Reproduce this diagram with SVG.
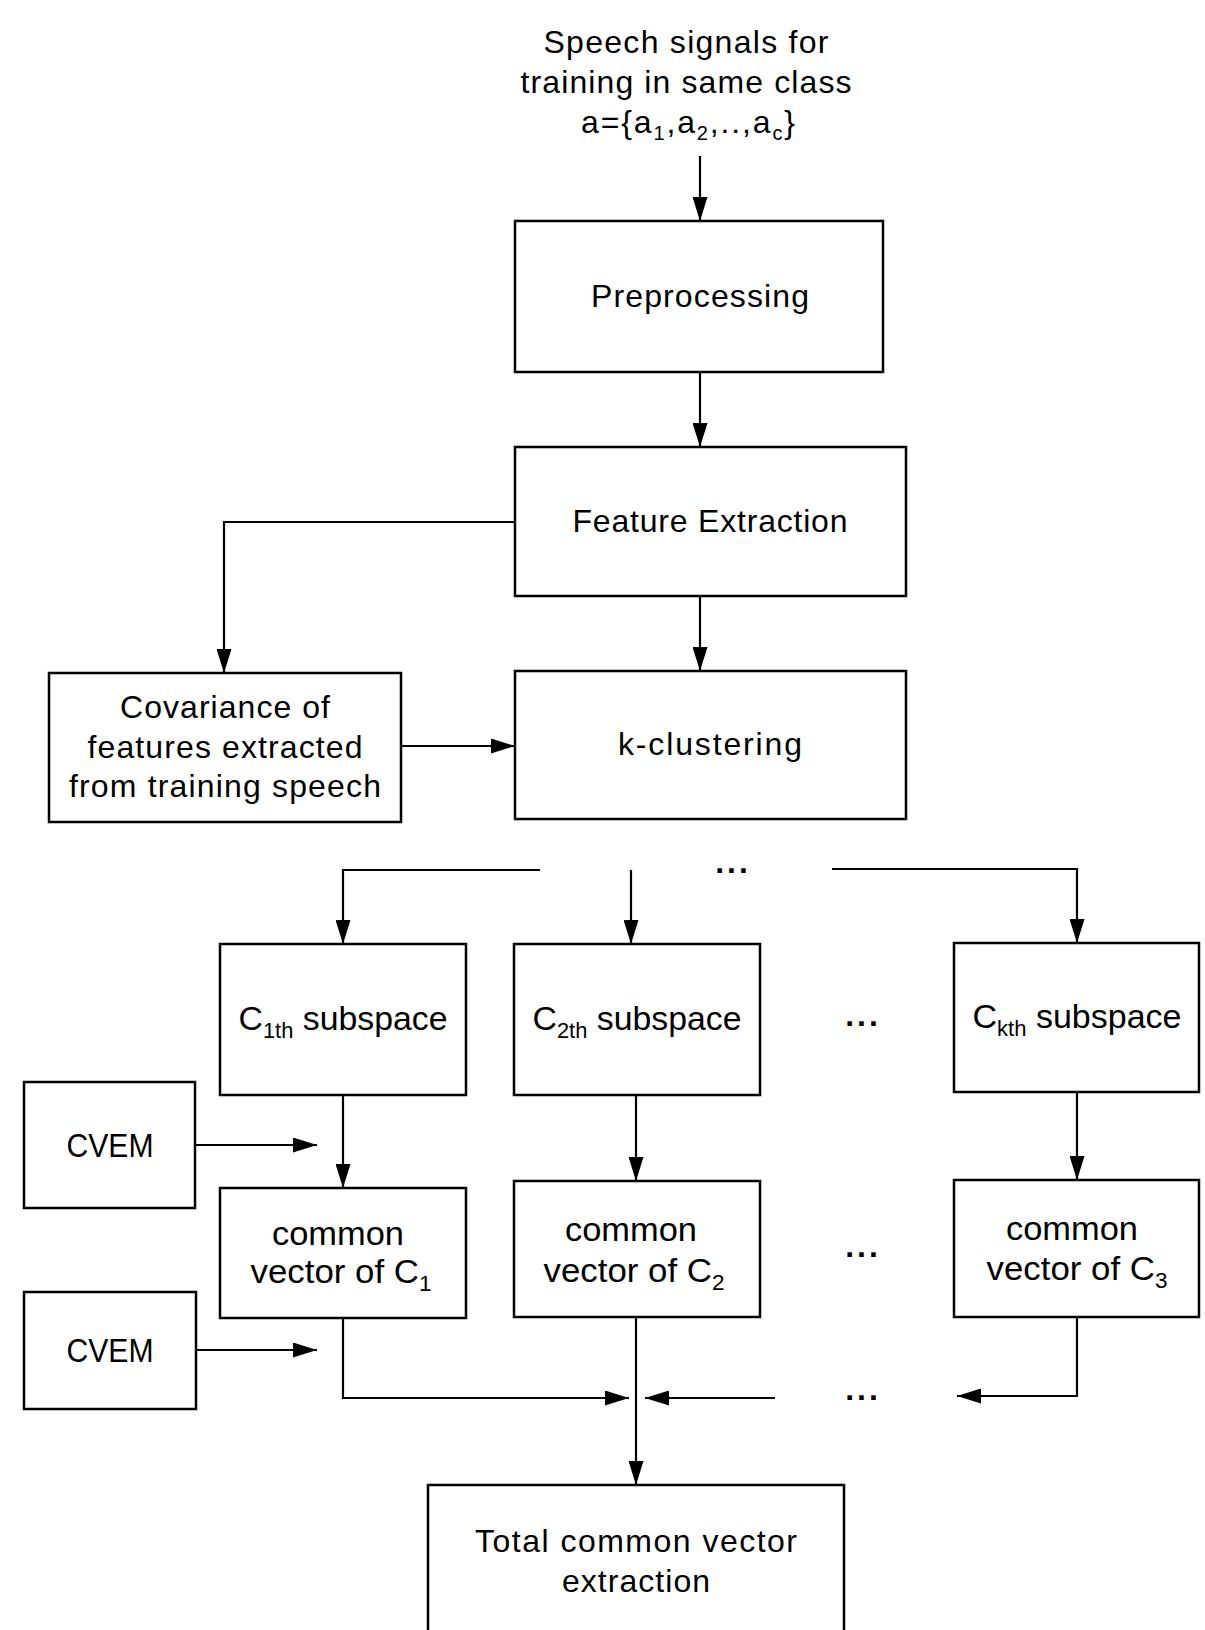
<svg xmlns="http://www.w3.org/2000/svg" width="1205" height="1630" viewBox="0 0 1205 1630">
<style>
.box{fill:#fff;stroke:#000;stroke-width:2.5}
.ln{fill:none;stroke:#000;stroke-width:2.2}
.t{font-family:"Liberation Sans",Arial,sans-serif;font-size:32px;fill:#000;text-anchor:middle}
.n{font-family:"Liberation Sans",Arial,sans-serif;font-size:34px;fill:#000;text-anchor:middle}
.d{font-family:"Liberation Sans",Arial,sans-serif;font-size:32px;font-weight:bold;fill:#000;text-anchor:middle;letter-spacing:3px}
</style>
<defs>
<marker id="ah" viewBox="0 0 24 15" refX="24" refY="7.5" markerWidth="24" markerHeight="15" orient="auto" markerUnits="userSpaceOnUse">
<path d="M0,0 L24,7.5 L0,15 z" fill="#000"/>
</marker>
</defs>
<rect width="1205" height="1630" fill="#fff"/>

<g id="input">
<text class="t" x="686" y="53" textLength="285" lengthAdjust="spacing">Speech signals for</text>
<text class="t" x="686" y="93" textLength="331" lengthAdjust="spacing">training in same class</text>
<text class="t" x="688" y="133" textLength="214" lengthAdjust="spacing">a={a<tspan font-size="20" dy="7">1</tspan><tspan dy="-7">,a</tspan><tspan font-size="20" dy="7">2</tspan><tspan dy="-7">,..,a</tspan><tspan font-size="20" dy="7">c</tspan><tspan dy="-7">}</tspan></text>
</g>

<g id="preprocessing">
<rect class="box" x="515" y="221" width="368" height="151"/>
<text class="t" x="700" y="307" textLength="218" lengthAdjust="spacing">Preprocessing</text>
</g>

<g id="feature">
<rect class="box" x="515" y="447" width="391" height="149"/>
<text class="t" x="710" y="532" textLength="275" lengthAdjust="spacing">Feature Extraction</text>
</g>

<g id="covariance">
<rect class="box" x="49" y="673" width="352" height="149"/>
<text class="t" x="225" y="718" textLength="210" lengthAdjust="spacing">Covariance of</text>
<text class="t" x="225" y="758" textLength="275" lengthAdjust="spacing">features extracted</text>
<text class="t" x="225" y="797" textLength="312" lengthAdjust="spacing">from training speech</text>
</g>

<g id="kclustering">
<rect class="box" x="515" y="671" width="391" height="148"/>
<text class="t" x="710" y="755" textLength="184" lengthAdjust="spacing">k-clustering</text>
</g>

<g id="sub1">
<rect class="box" x="220" y="944" width="246" height="151"/>
<text class="n" x="343" y="1030" textLength="209" lengthAdjust="spacingAndGlyphs">C<tspan font-size="22" dy="8">1th</tspan><tspan dy="-8"> subspace</tspan></text>
</g>
<g id="sub2">
<rect class="box" x="514" y="944" width="246" height="151"/>
<text class="n" x="637" y="1030" textLength="209" lengthAdjust="spacingAndGlyphs">C<tspan font-size="22" dy="8">2th</tspan><tspan dy="-8"> subspace</tspan></text>
</g>
<g id="subk">
<rect class="box" x="954" y="943" width="245" height="149"/>
<text class="n" x="1077" y="1028" textLength="209" lengthAdjust="spacingAndGlyphs">C<tspan font-size="22" dy="8">kth</tspan><tspan dy="-8"> subspace</tspan></text>
</g>

<g id="cvem1">
<rect class="box" x="24" y="1082" width="171" height="126"/>
<text class="n" x="110" y="1157" textLength="87" lengthAdjust="spacingAndGlyphs">CVEM</text>
</g>
<g id="cvem2">
<rect class="box" x="24" y="1292" width="172" height="117"/>
<text class="n" x="110" y="1362" textLength="87" lengthAdjust="spacingAndGlyphs">CVEM</text>
</g>

<g id="common1">
<rect class="box" x="220" y="1188" width="246" height="130"/>
<text class="n" x="338" y="1245" textLength="132" lengthAdjust="spacingAndGlyphs">common</text>
<text class="n" x="341" y="1283" textLength="181" lengthAdjust="spacingAndGlyphs">vector of C<tspan font-size="22" dy="8">1</tspan></text>
</g>
<g id="common2">
<rect class="box" x="514" y="1181" width="246" height="136"/>
<text class="n" x="631" y="1241" textLength="132" lengthAdjust="spacingAndGlyphs">common</text>
<text class="n" x="634" y="1282" textLength="181" lengthAdjust="spacingAndGlyphs">vector of C<tspan font-size="22" dy="8">2</tspan></text>
</g>
<g id="common3">
<rect class="box" x="954" y="1180" width="245" height="137"/>
<text class="n" x="1072" y="1240" textLength="132" lengthAdjust="spacingAndGlyphs">common</text>
<text class="n" x="1077" y="1280" textLength="181" lengthAdjust="spacingAndGlyphs">vector of C<tspan font-size="22" dy="8">3</tspan></text>
</g>

<g id="total">
<rect class="box" x="428" y="1485" width="416" height="170"/>
<text class="t" x="636" y="1552" textLength="322" lengthAdjust="spacing">Total common vector</text>
<text class="t" x="636" y="1592" textLength="148" lengthAdjust="spacing">extraction</text>
</g>

<g id="dots">
<text class="d" x="733" y="873">...</text>
<text class="d" x="863" y="1026">...</text>
<text class="d" x="863" y="1257">...</text>
<text class="d" x="863" y="1400">...</text>
</g>

<g id="connectors">
<path class="ln" d="M700,156 V221" marker-end="url(#ah)"/>
<path class="ln" d="M700,372 V447" marker-end="url(#ah)"/>
<path class="ln" d="M515,522 H224 V673" marker-end="url(#ah)"/>
<path class="ln" d="M700,596 V671" marker-end="url(#ah)"/>
<path class="ln" d="M401,746 H515" marker-end="url(#ah)"/>
<path class="ln" d="M540,870 H343 V944" marker-end="url(#ah)"/>
<path class="ln" d="M631,870 V944" marker-end="url(#ah)"/>
<path class="ln" d="M832,869 H1077 V943" marker-end="url(#ah)"/>
<path class="ln" d="M195,1145 H317" marker-end="url(#ah)"/>
<path class="ln" d="M196,1350 H317" marker-end="url(#ah)"/>
<path class="ln" d="M343,1095 V1188" marker-end="url(#ah)"/>
<path class="ln" d="M636,1095 V1181" marker-end="url(#ah)"/>
<path class="ln" d="M1077,1092 V1180" marker-end="url(#ah)"/>
<path class="ln" d="M343,1318 V1398 H629" marker-end="url(#ah)"/>
<path class="ln" d="M636,1317 V1485" marker-end="url(#ah)"/>
<path class="ln" d="M775,1398 H645" marker-end="url(#ah)"/>
<path class="ln" d="M1077,1317 V1396 H957" marker-end="url(#ah)"/>
</g>
</svg>
